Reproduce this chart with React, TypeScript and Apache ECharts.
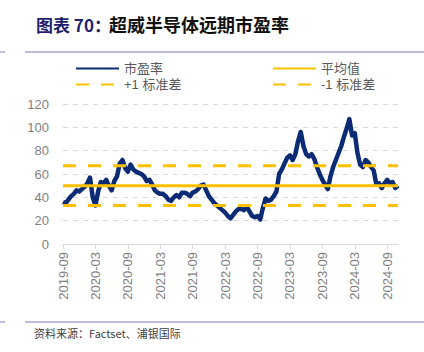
import React, { useEffect, useRef } from "react";
import * as echarts from "echarts";

// Semi-monthly observations starting 2019-09 (1st and 16th of each month)
const startYear = 2019;
const startMonth = 9;
const peValues: number[] = [
  36, 35, 38, 41, 43, 46, 45, 47, 49, 52, 57, 40, 33, 45, 53, 52, 55, 50, 46, 54,
  58, 69, 72, 65, 62, 68, 64, 62, 61, 60, 58, 54, 55, 51, 46, 44, 43, 43, 41, 38,
  37, 40, 42, 40, 44, 44, 43, 41, 44, 45, 47, 50, 51, 46, 41, 38, 35, 33, 31, 29,
  27, 24, 22, 25, 28, 30, 30, 29, 32, 28, 24, 23, 24, 21, 31, 39, 37, 38, 41, 45,
  60, 64, 69, 74, 76, 72, 77, 88, 96, 84, 77, 75, 77, 73, 66, 60, 55, 51, 47, 58,
  66, 72, 78, 84, 92, 99, 107, 93, 95, 78, 68, 66, 72, 70, 66, 63, 51, 52, 48, 52,
  55, 52, 53, 48, 50,
];
const meanValue = 50;
const plusStd = 67;
const minusStd = 33;
const tickLabels = [
  "2019-09", "2020-03", "2020-09", "2021-03", "2021-09", "2022-03",
  "2022-09", "2023-03", "2023-09", "2024-03", "2024-09",
];
const yTicks = { min: 0, max: 120, interval: 20 };

const categories: string[] = peValues.map((_, i) => {
  const mIdx = startMonth - 1 + Math.floor(i / 2);
  const y = startYear + Math.floor(mIdx / 12);
  const m = (mIdx % 12) + 1;
  return `${y}-${String(m).padStart(2, "0")}-${i % 2 === 0 ? "01" : "16"}`;
});

const NAVY = "#0b2c74";
const GOLD = "#ffc000";

export default function App() {
  const ref = useRef<HTMLDivElement>(null);
  useEffect(() => {
    document.body.style.margin = "0";
    const chart = echarts.init(ref.current!, undefined, { renderer: "svg" });
    const isTick = (idx: number) =>
      categories[idx].endsWith("-01") && tickLabels.includes(categories[idx].slice(0, 7));
    const ruleColor = "#7f7bb5";
    const legendCommon = {
      top: 62,
      padding: 0,
      orient: "vertical",
      itemWidth: 43,
      itemHeight: 14,
      itemGap: 3,
      itemStyle: { opacity: 0 },
      textStyle: { color: "#595959", fontSize: 13 },
    };
    chart.setOption({
      animation: false,
      backgroundColor: "#ffffff",
      textStyle: { fontFamily: "'Liberation Sans', 'Noto Sans CJK SC', sans-serif" },
      graphic: [
        {
          type: "text",
          left: 36,
          top: 16,
          style: {
            text: "图表 70：",
            fill: "#1f1f6e",
            font: "bold 17px 'Noto Sans CJK SC', sans-serif",
          },
        },
        {
          type: "text",
          left: 109,
          top: 15,
          style: {
            text: "超威半导体远期市盈率",
            fill: "#111111",
            font: "bold 18px 'Noto Sans CJK SC', sans-serif",
          },
        },
        { type: "line", shape: { x1: 0, y1: 52, x2: 5, y2: 52 }, style: { stroke: ruleColor, lineWidth: 1 } },
        { type: "line", shape: { x1: 25, y1: 52, x2: 424, y2: 52 }, style: { stroke: ruleColor, lineWidth: 1 } },
        { type: "line", shape: { x1: 0, y1: 322, x2: 5, y2: 322 }, style: { stroke: ruleColor, lineWidth: 1 } },
        { type: "line", shape: { x1: 25, y1: 322, x2: 424, y2: 322 }, style: { stroke: ruleColor, lineWidth: 1 } },
        {
          type: "text",
          left: 34,
          top: 327,
          style: {
            text: "资料来源：Factset、浦银国际",
            fill: "#404040",
            font: "11px 'Noto Sans CJK SC', sans-serif",
          },
        },
      ],
      legend: [
        { ...legendCommon, left: 75, data: ["市盈率", "+1 标准差"] },
        { ...legendCommon, left: 272, data: ["平均值", "-1 标准差"] },
      ],
      grid: { left: 63, right: 26, top: 104, bottom: 108, containLabel: false },
      xAxis: {
        type: "category",
        data: categories,
        boundaryGap: false,
        axisLine: { lineStyle: { color: "#d9d9d9", width: 1 } },
        axisTick: {
          show: true,
          length: 5,
          interval: (idx: number) => isTick(idx),
          lineStyle: { color: "#d9d9d9" },
        },
        axisLabel: {
          interval: (idx: number) => isTick(idx),
          formatter: (v: string) => v.slice(0, 7),
          rotate: 90,
          color: "#7f7f7f",
          fontSize: 13,
          margin: 8,
        },
        splitLine: { show: false },
      },
      yAxis: {
        type: "value",
        min: yTicks.min,
        max: yTicks.max,
        interval: yTicks.interval,
        axisLine: { show: false },
        axisTick: { show: false },
        axisLabel: { color: "#7f7f7f", fontSize: 13, margin: 14 },
        splitLine: { lineStyle: { color: "#d9d9d9", type: [5, 5], width: 1 } },
      },
      series: [
        {
          name: "平均值",
          type: "line",
          data: peValues.map(() => meanValue),
          symbol: "none",
          lineStyle: { color: GOLD, width: 3 },
          itemStyle: { color: GOLD },
          z: 3,
        },
        {
          name: "+1 标准差",
          type: "line",
          data: peValues.map(() => plusStd),
          symbol: "none",
          lineStyle: { color: GOLD, width: 3, type: [13, 12] },
          itemStyle: { color: GOLD },
          z: 3,
        },
        {
          name: "-1 标准差",
          type: "line",
          data: peValues.map(() => minusStd),
          symbol: "none",
          lineStyle: { color: GOLD, width: 3, type: [13, 12] },
          itemStyle: { color: GOLD },
          z: 3,
        },
        {
          name: "市盈率",
          type: "line",
          data: peValues,
          symbol: "none",
          lineStyle: { color: NAVY, width: 4.5, join: "round" },
          itemStyle: { color: NAVY },
          z: 2,
        },
      ],
    });
    return () => chart.dispose();
  }, []);
  return (
    <div
      ref={ref}
      style={{ position: "absolute", left: 0, top: 0, width: 424, height: 352 }}
    />
  );
}
